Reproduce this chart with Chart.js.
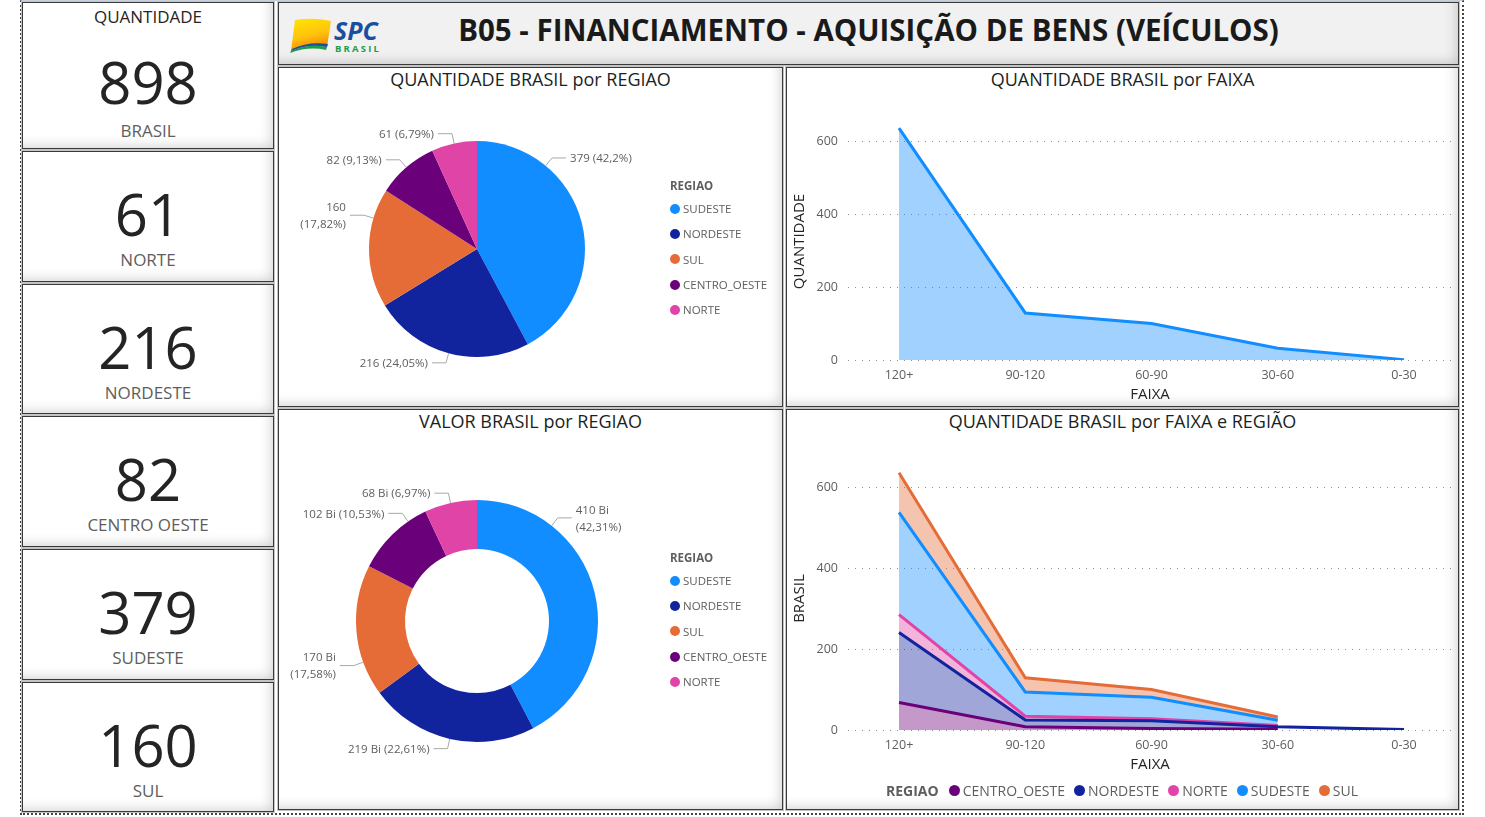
<!DOCTYPE html>
<html><head><meta charset="utf-8">
<script src="https://cdn.jsdelivr.net/npm/chart.js@4/dist/chart.umd.min.js"></script>
<style>
body{margin:0;background:#fff;font-family:"Open Sans",sans-serif;}
#root{position:relative;width:1485px;height:817px;overflow:hidden;background:#fff;}
.frame{position:absolute;left:20px;top:0;width:1440px;height:812px;border-left:2px dotted #444;border-right:2px dotted #444;border-bottom:2px dotted #444;border-top:1px solid #c5d0dc;}
.box{position:absolute;box-sizing:border-box;border:1px solid #3a3a3a;background:#fff;
 box-shadow:0 0 0 1px #c4c4c4, inset -12px -12px 14px -12px rgba(0,0,0,0.22);}
.t{position:absolute;left:0;width:100%;text-align:center;white-space:nowrap;}
.num{font-size:58px;color:#252423;line-height:70px;height:70px;}
.lab{font-size:17px;color:#605E5C;line-height:22px;height:22px;}
.ptitle{font-size:18px;color:#201f1e;line-height:22px;height:22px;}
canvas{position:absolute;}
.leg{position:absolute;font-size:11.5px;color:#605E5C;}
.leg .h{font-weight:700;color:#605E5C;height:20px;line-height:20px;}
.leg .it{display:flex;align-items:center;height:25.3px;}
.leg .dot{width:10px;height:10px;border-radius:50%;margin-right:3px;}
.hleg{position:absolute;display:flex;align-items:center;font-size:14px;color:#605E5C;white-space:nowrap;height:20px;}
.hleg .h{font-weight:700;margin-right:10px;}
.hleg .dot{width:11px;height:11px;border-radius:50%;margin-right:3px;}
.hleg .it{display:flex;align-items:center;margin-right:9px;}
</style></head>
<body><div id="root">
<div class="frame"></div>
<div id="cards"></div>
<div class="box" style="left:278px;top:2px;width:1181px;height:63px;background:#f1f1f1;">
  <svg style="position:absolute;left:10px;top:10px" width="100" height="44" viewBox="0 0 100 44">
    <defs><linearGradient id="g1" x1="0" y1="0" x2="0.3" y2="1"><stop offset="0" stop-color="#ffe600"/><stop offset="0.6" stop-color="#ffc20e"/><stop offset="1" stop-color="#f18a00"/></linearGradient></defs>
    <path d="M6 7 Q24 4 42 8 L38 34 Q20 30 2 38 Z" fill="url(#g1)"/>
    <path d="M2 38 Q20 30 38 34 L37 37 Q20 33 1 40 Z" fill="#1b9e49"/>
    <path d="M3 36 Q20 28 39 31 L38 34 Q20 30 2 38 Z" fill="#1a4fa0"/>
    <text x="45" y="27" font-family="Open Sans" font-style="italic" font-weight="700" font-size="25" fill="#1a4fa0">SPC</text>
    <text x="46" y="39" font-family="Open Sans" font-weight="700" font-size="9.5" letter-spacing="2.2" fill="#1b9e49">BRASIL</text>
  </svg>
  <div class="t" style="top:7px;font-size:29.5px;font-weight:700;color:#1a1a1a;line-height:40px;">B05 - FINANCIAMENTO - AQUISIÇÃO DE BENS (VEÍCULOS)</div>
</div>
<div class="box" id="p1" style="left:278px;top:67px;width:505px;height:340px;">
  <div class="t ptitle" style="top:0px">QUANTIDADE BRASIL por REGIAO</div>
</div>
<div class="box" id="p2" style="left:786px;top:67px;width:673px;height:340px;">
  <div class="t ptitle" style="top:0px">QUANTIDADE BRASIL por FAIXA</div>
</div>
<div class="box" id="p3" style="left:278px;top:409px;width:505px;height:401px;">
  <div class="t ptitle" style="top:0px">VALOR BRASIL por REGIAO</div>
</div>
<div class="box" id="p4" style="left:786px;top:409px;width:673px;height:401px;">
  <div class="t ptitle" style="top:0px">QUANTIDADE BRASIL por FAIXA e REGIÃO</div>
</div>
<canvas id="c1" width="504" height="339" style="left:278px;top:67px"></canvas>
<canvas id="c2" width="672" height="339" style="left:786px;top:67px"></canvas>
<canvas id="c3" width="504" height="400" style="left:278px;top:409px"></canvas>
<canvas id="c4" width="672" height="400" style="left:786px;top:409px"></canvas>
<div class="leg" id="leg1" style="left:670px;top:176px"></div>
<div class="leg" id="leg2" style="left:670px;top:548px"></div>
<div class="hleg" id="leg4" style="left:886px;top:780px"></div>
</div>
<script>
// ---- DATA ----
const cardTitles = ["BRASIL","NORTE","NORDESTE","CENTRO OESTE","SUDESTE","SUL"];
const cardValues = [898,61,216,82,379,160];
const regioes = ["SUDESTE","NORDESTE","SUL","CENTRO_OESTE","NORTE"];
const coresRegiao = ["#118DFF","#12239E","#E66C37","#6B007B","#E044A7"];
const qtdRegiao = [379,216,160,82,61];
const qtdRegiaoPct = ["42,2%","24,05%","17,82%","9,13%","6,79%"];
const valorRegiao = [410,219,170,102,68];
const valorRegiaoPct = ["42,31%","22,61%","17,58%","10,53%","6,97%"];
const faixas = ["120+","90-120","60-90","30-60","0-30"];
const qtdFaixa = [636,129,100,32,1];
const yTicks = [0,200,400,600];
// stacked series (bottom to top)
const serieRegioes = ["CENTRO_OESTE","NORDESTE","NORTE","SUDESTE","SUL"];
const serieCores = ["#6B007B","#12239E","#E044A7","#118DFF","#E66C37"];
const centroOeste = [68,8,4,2,null];
const nordeste   = [173,17,19,6,1];
const norte      = [44,9,5,3,null];
const sudeste    = [253,60,53,13,null];
const sul        = [98,35,19,8,null];

const FAM = '"Open Sans", sans-serif';
function rgba(hex,a){const n=parseInt(hex.slice(1),16);return `rgba(${n>>16},${(n>>8)&255},${n&255},${a})`;}

// ---- cards ----
const cardTops=[2,151,284,416,549,682], cardH=[147,131,130,131,131,130];
const cardsEl=document.getElementById('cards');
cardTitles.forEach((t,i)=>{
  const d=document.createElement('div');d.className='box';
  d.style.cssText=`left:22px;top:${cardTops[i]}px;width:252px;height:${cardH[i]}px;`;
  let html='';
  if(i===0){
    html+=`<div class="t lab" style="top:3px;color:#252423">QUANTIDADE</div>`;
    html+=`<div class="t num" style="top:44px">${cardValues[i]}</div>`;
    html+=`<div class="t lab" style="top:117px">${t}</div>`;
  } else {
    html+=`<div class="t num" style="top:27px">${cardValues[i]}</div>`;
    html+=`<div class="t lab" style="top:97px">${t}</div>`;
  }
  d.innerHTML=html;cardsEl.appendChild(d);
});

// ---- legends ----
function vLegend(id){
  const el=document.getElementById(id);
  let h='<div class="h">REGIAO</div>';
  regioes.forEach((r,i)=>{h+=`<div class="it"><span class="dot" style="background:${coresRegiao[i]}"></span>${r}</div>`;});
  el.innerHTML=h;
}
vLegend('leg1');vLegend('leg2');
(function(){
  const el=document.getElementById('leg4');
  let h='<span class="h">REGIAO</span>';
  serieRegioes.forEach((r,i)=>{h+=`<span class="it"><span class="dot" style="background:${serieCores[i]}"></span>${r}</span>`;});
  el.innerHTML=h;
})();

// ---- pie label plugin ----
const pieLabels={
  id:'pieLabels',
  afterDatasetsDraw(chart,args,opts){
    const ctx=chart.ctx, meta=chart.getDatasetMeta(0);
    ctx.save();
    ctx.font='11.5px '+FAM; ctx.fillStyle='#605E5C'; ctx.strokeStyle='#a8a8a8'; ctx.lineWidth=1;
    meta.data.forEach((arc,i)=>{
      const p=arc.getProps(['x','y','startAngle','endAngle','outerRadius'],true);
      const a=p.startAngle+opts.frac[i]*(p.endAngle-p.startAngle);
      const px=p.x+p.outerRadius*Math.cos(a), py=p.y+p.outerRadius*Math.sin(a);
      const ex=px+10*Math.cos(a), ey=py+10*Math.sin(a);
      const dir=Math.cos(a)>=0?1:-1;
      const hx=ex+14*dir;
      ctx.beginPath();ctx.moveTo(px,py);ctx.lineTo(ex,ey);ctx.lineTo(hx,ey);ctx.stroke();
      const lines=opts.lines[i];
      ctx.textAlign=dir>0?'left':'right';ctx.textBaseline='middle';
      const lh=17, y0=ey-(lines.length-1)*lh/2+1;
      lines.forEach((t,k)=>ctx.fillText(t,hx+4*dir,y0+k*lh));
    });
    ctx.restore();
  }
};
const qtdWrap=[false,false,true,false,false];
const valWrap=[true,false,true,false,false];
const qtdLines=qtdRegiao.map((v,i)=>qtdWrap[i]?[String(v),`(${qtdRegiaoPct[i]})`]:[`${v} (${qtdRegiaoPct[i]})`]);
const valLines=valorRegiao.map((v,i)=>valWrap[i]?[`${v} Bi`,`(${valorRegiaoPct[i]})`]:[`${v} Bi (${valorRegiaoPct[i]})`]);

new Chart(document.getElementById('c1'),{
  type:'pie',
  data:{labels:regioes,datasets:[{data:qtdRegiao,backgroundColor:coresRegiao,borderWidth:0}]},
  options:{responsive:false,animation:false,
    layout:{padding:{left:91,right:197,top:74,bottom:49}},
    plugins:{legend:{display:false},tooltip:{enabled:false},
      pieLabels:{frac:[0.26,0.5,0.75,0.5,0.5],lines:qtdLines}}},
  plugins:[pieLabels]
});
new Chart(document.getElementById('c3'),{
  type:'doughnut',
  data:{labels:regioes,datasets:[{data:valorRegiao,backgroundColor:coresRegiao,borderWidth:0}]},
  options:{responsive:false,animation:false,cutout:'59.5%',
    layout:{padding:{left:78,right:184,top:91,bottom:67}},
    plugins:{legend:{display:false},tooltip:{enabled:false},
      pieLabels:{frac:[0.25,0.5,0.26,0.75,0.5],lines:valLines}}},
  plugins:[pieLabels]
});

function axes(yTitle){
  return {
    x:{type:'linear',min:-0.404,max:4.38,
      afterBuildTicks:s=>{s.ticks=faixas.map((f,i)=>({value:i}));},
      ticks:{callback:v=>faixas[v],color:'#605E5C',font:{size:12.5,family:FAM},padding:8,maxRotation:0,autoSkip:false},
      grid:{display:false,drawTicks:false},border:{display:false},
      title:{display:true,text:'FAIXA',color:'#252423',font:{size:15,family:FAM},padding:{top:0,bottom:2}},
      afterFit:s=>{s.height=46;}},
    y:{min:0,max:650,
      afterBuildTicks:s=>{s.ticks=yTicks.map(v=>({value:v}));},
      ticks:{color:'#605E5C',font:{size:12.5,family:FAM},padding:10},
      grid:{color:'#8f8f8f',drawTicks:false,lineWidth:1,borderDash:[1,6]},
      border:{display:false,dash:[1,6]},
      title:{display:true,text:yTitle,color:'#252423',font:{size:15,family:FAM},padding:{top:5,bottom:4}},
      afterFit:s=>{s.width=62;}}
  };
}

new Chart(document.getElementById('c2'),{
  type:'line',
  data:{datasets:[{data:faixas.map((f,i)=>({x:i,y:qtdFaixa[i]})),borderColor:'#118DFF',
    backgroundColor:rgba('#118DFF',0.4),fill:'origin',borderWidth:3,pointRadius:0,tension:0}]},
  options:{responsive:false,animation:false,
    layout:{padding:{left:0,right:6,top:56,bottom:0}},
    plugins:{legend:{display:false},tooltip:{enabled:false}},
    scales:axes('QUANTIDADE')}
});

const stackData=[centroOeste,nordeste,norte,sudeste,sul];
const sc=axes('BRASIL'); sc.y.stacked=true;
new Chart(document.getElementById('c4'),{
  type:'line',
  data:{datasets:serieRegioes.map((r,k)=>({label:r,
    data:faixas.map((f,i)=>({x:i,y:stackData[k][i]})),
    borderColor:serieCores[k],backgroundColor:rgba(serieCores[k],0.4),
    fill:k===0?'origin':'-1',borderWidth:3,pointRadius:0,tension:0}))},
  options:{responsive:false,animation:false,
    layout:{padding:{left:0,right:6,top:58,bottom:33}},
    plugins:{legend:{display:false},tooltip:{enabled:false}},
    scales:sc}
});
</script>
</body></html>
